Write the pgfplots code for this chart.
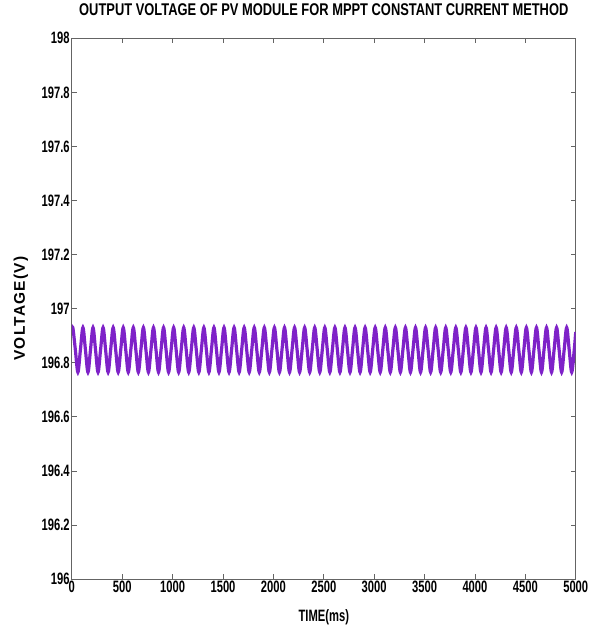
\documentclass[border=0pt]{standalone}
\usepackage{fontspec}
\setmainfont{Liberation Sans}
\newfontfamily\narrowfont{Liberation Sans}[FakeStretch=0.68]
\newfontfamily\titlefont{Liberation Sans}[FakeStretch=0.76]
\newfontfamily\ylabfont{Liberation Sans}[LetterSpace=8]
\usepackage{pgfplots}
\pgfplotsset{compat=1.18}
\usetikzlibrary{calc}
\definecolor{wave}{RGB}{126,34,200}
\definecolor{axgray}{RGB}{100,100,100}
\begin{document}
\begin{tikzpicture}
\begin{axis}[
  name=ax,
  scale only axis,
  width=505pt, height=542pt,
  xmin=0, xmax=5000, ymin=196, ymax=198,
  xtick={0,500,...,5000},
  ytick={196,196.2,...,198.01},
  tick align=inside,
  major tick length=5pt,
  axis line style={draw=axgray, line width=0.8pt},
  every tick/.style={draw=axgray, line width=0.8pt},
  /pgf/number format/assume math mode=true,
  scaled x ticks=false, scaled y ticks=false,
  xticklabel style={/pgf/number format/fixed, /pgf/number format/precision=0, /pgf/number format/set thousands separator={}},
  yticklabel style={/pgf/number format/fixed, /pgf/number format/precision=1},
  ticklabel style={font=\narrowfont\bfseries\fontsize{16.5}{18}\selectfont, inner sep=2pt},
  title={\titlefont\bfseries\fontsize{17}{19}\selectfont OUTPUT VOLTAGE OF PV MODULE FOR MPPT CONSTANT CURRENT METHOD},
  title style={at={(axis description cs:0.5,1)}, anchor=center, yshift=23pt},
  xlabel={\narrowfont\bfseries\fontsize{16.5}{18}\selectfont TIME(ms)},
  xlabel style={at={(axis description cs:0.5,0)}, anchor=center, yshift=-38pt},
  ylabel={\ylabfont\bfseries\fontsize{15.5}{17}\selectfont VOLTAGE(V)},
  ylabel style={at={(axis description cs:-0.101,0.5)}, anchor=center},
]
\addplot[wave, line width=3.2pt, smooth, tension=0.55] coordinates {
(0,196.914)
(10,196.93)(35,196.8475)(60,196.765)(85,196.8475)
(110,196.93)(135,196.8475)(160,196.765)(185,196.8475)
(210,196.93)(235,196.8475)(260,196.765)(285,196.8475)
(310,196.93)(335,196.8475)(360,196.765)(385,196.8475)
(410,196.93)(435,196.8475)(460,196.765)(485,196.8475)
(510,196.93)(535,196.8475)(560,196.765)(585,196.8475)
(610,196.93)(635,196.8475)(660,196.765)(685,196.8475)
(710,196.93)(735,196.8475)(760,196.765)(785,196.8475)
(810,196.93)(835,196.8475)(860,196.765)(885,196.8475)
(910,196.93)(935,196.8475)(960,196.765)(985,196.8475)
(1010,196.93)(1035,196.8475)(1060,196.765)(1085,196.8475)
(1110,196.93)(1135,196.8475)(1160,196.765)(1185,196.8475)
(1210,196.93)(1235,196.8475)(1260,196.765)(1285,196.8475)
(1310,196.93)(1335,196.8475)(1360,196.765)(1385,196.8475)
(1410,196.93)(1435,196.8475)(1460,196.765)(1485,196.8475)
(1510,196.93)(1535,196.8475)(1560,196.765)(1585,196.8475)
(1610,196.93)(1635,196.8475)(1660,196.765)(1685,196.8475)
(1710,196.93)(1735,196.8475)(1760,196.765)(1785,196.8475)
(1810,196.93)(1835,196.8475)(1860,196.765)(1885,196.8475)
(1910,196.93)(1935,196.8475)(1960,196.765)(1985,196.8475)
(2010,196.93)(2035,196.8475)(2060,196.765)(2085,196.8475)
(2110,196.93)(2135,196.8475)(2160,196.765)(2185,196.8475)
(2210,196.93)(2235,196.8475)(2260,196.765)(2285,196.8475)
(2310,196.93)(2335,196.8475)(2360,196.765)(2385,196.8475)
(2410,196.93)(2435,196.8475)(2460,196.765)(2485,196.8475)
(2510,196.93)(2535,196.8475)(2560,196.765)(2585,196.8475)
(2610,196.93)(2635,196.8475)(2660,196.765)(2685,196.8475)
(2710,196.93)(2735,196.8475)(2760,196.765)(2785,196.8475)
(2810,196.93)(2835,196.8475)(2860,196.765)(2885,196.8475)
(2910,196.93)(2935,196.8475)(2960,196.765)(2985,196.8475)
(3010,196.93)(3035,196.8475)(3060,196.765)(3085,196.8475)
(3110,196.93)(3135,196.8475)(3160,196.765)(3185,196.8475)
(3210,196.93)(3235,196.8475)(3260,196.765)(3285,196.8475)
(3310,196.93)(3335,196.8475)(3360,196.765)(3385,196.8475)
(3410,196.93)(3435,196.8475)(3460,196.765)(3485,196.8475)
(3510,196.93)(3535,196.8475)(3560,196.765)(3585,196.8475)
(3610,196.93)(3635,196.8475)(3660,196.765)(3685,196.8475)
(3710,196.93)(3735,196.8475)(3760,196.765)(3785,196.8475)
(3810,196.93)(3835,196.8475)(3860,196.765)(3885,196.8475)
(3910,196.93)(3935,196.8475)(3960,196.765)(3985,196.8475)
(4010,196.93)(4035,196.8475)(4060,196.765)(4085,196.8475)
(4110,196.93)(4135,196.8475)(4160,196.765)(4185,196.8475)
(4210,196.93)(4235,196.8475)(4260,196.765)(4285,196.8475)
(4310,196.93)(4335,196.8475)(4360,196.765)(4385,196.8475)
(4410,196.93)(4435,196.8475)(4460,196.765)(4485,196.8475)
(4510,196.93)(4535,196.8475)(4560,196.765)(4585,196.8475)
(4610,196.93)(4635,196.8475)(4660,196.765)(4685,196.8475)
(4710,196.93)(4735,196.8475)(4760,196.765)(4785,196.8475)
(4810,196.93)(4835,196.8475)(4860,196.765)(4885,196.8475)
(4910,196.93)(4935,196.8475)(4960,196.765)(4985,196.8475)
(5000,196.914)
};
\end{axis}
\path ($(ax.south west)+(-72pt,-48pt)$) rectangle ($(ax.north east)+(29pt,38pt)$);
\end{tikzpicture}
\end{document}
